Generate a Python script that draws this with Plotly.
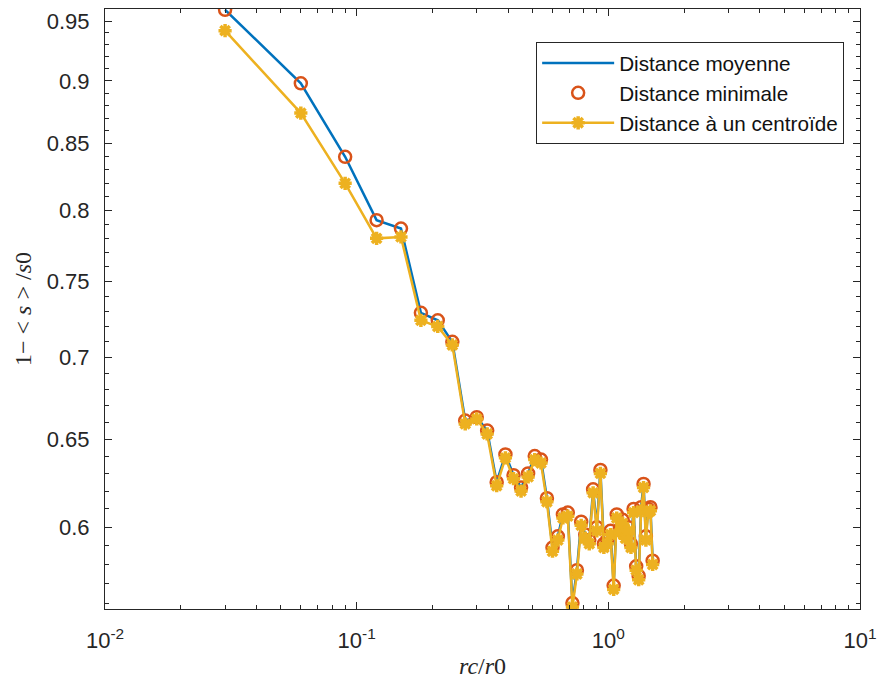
import plotly.graph_objects as go
import math

# rc/r0 values (x)
rc_r0 = [0.03, 0.06, 0.09, 0.12, 0.15, 0.18, 0.21, 0.24, 0.27, 0.30,
         0.33, 0.36, 0.39, 0.42, 0.45, 0.48, 0.51, 0.54, 0.57, 0.60,
         0.63, 0.66, 0.69, 0.72, 0.75, 0.78, 0.81, 0.84, 0.87, 0.90,
         0.93, 0.96, 0.99, 1.02, 1.05, 1.08, 1.11, 1.14, 1.17, 1.20,
         1.23, 1.26, 1.29, 1.32, 1.35, 1.38, 1.41, 1.44, 1.47, 1.50]

dist_moyenne = [0.960, 0.898, 0.840, 0.793, 0.787, 0.729, 0.724, 0.710, 0.661, 0.663,
                0.655, 0.625, 0.641, 0.629, 0.622, 0.630, 0.640, 0.638, 0.616, 0.589,
                0.595, 0.607, 0.608, 0.560, 0.577, 0.603, 0.596, 0.593, 0.621, 0.600,
                0.632, 0.591, 0.593, 0.598, 0.569, 0.607, 0.599, 0.604, 0.596, 0.600,
                0.591, 0.610, 0.579, 0.574, 0.611, 0.624, 0.595, 0.610, 0.611, 0.582]

dist_minimale = [0.960, 0.898, 0.840, 0.793, 0.787, 0.729, 0.724, 0.710, 0.661, 0.663,
                 0.655, 0.625, 0.641, 0.629, 0.622, 0.630, 0.640, 0.638, 0.616, 0.589,
                 0.595, 0.607, 0.608, 0.560, 0.577, 0.603, 0.596, 0.593, 0.621, 0.600,
                 0.632, 0.591, 0.593, 0.598, 0.569, 0.607, 0.599, 0.604, 0.596, 0.600,
                 0.591, 0.610, 0.579, 0.574, 0.611, 0.624, 0.595, 0.610, 0.611, 0.582]

dist_centroide = [0.942, 0.874, 0.820, 0.780, 0.781, 0.724, 0.720, 0.708, 0.659, 0.662,
                  0.653, 0.623, 0.639, 0.627, 0.620, 0.628, 0.638, 0.636, 0.614, 0.587,
                  0.593, 0.605, 0.606, 0.558, 0.575, 0.601, 0.594, 0.591, 0.619, 0.598,
                  0.630, 0.589, 0.591, 0.596, 0.567, 0.605, 0.597, 0.602, 0.594, 0.598,
                  0.589, 0.608, 0.577, 0.572, 0.609, 0.622, 0.593, 0.608, 0.609, 0.580]

x_tickvals = [0.01, 0.1, 1, 10]
x_ticktext = ["10<sup>-2</sup>", "10<sup>-1</sup>", "10<sup>0</sup>", "10<sup>1</sup>"]
x_minor = [m * d for d in (0.01, 0.1, 1) for m in range(2, 10)]

y_tickvals = [0.6, 0.65, 0.7, 0.75, 0.8, 0.85, 0.9, 0.95]
y_ticktext = ["0.6", "0.65", "0.7", "0.75", "0.8", "0.85", "0.9", "0.95"]
y_minor = [round(0.56 + 0.01 * i, 2) for i in range(41)]
y_minor = [v for v in y_minor if all(abs(v - t) > 1e-9 for t in y_tickvals)]

BLUE = "#0072BD"
RED = "#D95319"
YELLOW = "#EDB120"
AX = "#262626"

fig = go.Figure()
fig.add_trace(go.Scatter(x=rc_r0, y=dist_moyenne, mode="lines", name="Distance moyenne",
                         line=dict(color=BLUE, width=2.5)))
fig.add_trace(go.Scatter(x=rc_r0, y=dist_minimale, mode="markers", name="Distance minimale",
                         marker=dict(symbol="circle-open", size=12, color=RED,
                                     line=dict(color=RED, width=2.5))))
fig.add_trace(go.Scatter(x=rc_r0, y=dist_centroide, mode="lines+markers",
                         name="Distance à un centroïde",
                         line=dict(color=YELLOW, width=2.5),
                         marker=dict(symbol="asterisk-open", size=11, color=YELLOW,
                                     line=dict(color=YELLOW, width=3.5))))

fig.update_layout(
    width=885, height=690,
    margin=dict(l=105, r=19, t=8, b=81),
    paper_bgcolor="white", plot_bgcolor="white",
    font=dict(family="Liberation Sans, Arial, sans-serif", size=22, color=AX),
    showlegend=True,
    legend=dict(x=0.979, y=0.945, xanchor="right", yanchor="top",
                bordercolor=AX, borderwidth=1, bgcolor="white",
                font=dict(size=20.7, color="#111111"), itemwidth=72,
                tracegroupgap=0),
    xaxis=dict(type="log", range=[-2, 1], tickmode="array", tickvals=x_tickvals,
               ticktext=x_ticktext, ticks="inside", ticklen=7, tickwidth=1,
               tickcolor=AX, showline=True, linecolor=AX, linewidth=1,
               mirror="ticks", showgrid=False, zeroline=False,
               ticklabelstandoff=12,
               tickfont=dict(size=22, color=AX),
               minor=dict(tickmode="array", tickvals=x_minor, ticks="inside",
                          ticklen=4, tickcolor=AX, showgrid=False),
               title=dict(text="<i>rc</i>/<i>r</i>0",
                          font=dict(family="Liberation Serif, serif", size=24, color=AX),
                          standoff=4)),
    yaxis=dict(type="log", range=[math.log10(0.557), math.log10(0.9607)],
               tickmode="array", tickvals=y_tickvals, ticktext=y_ticktext,
               ticks="inside", ticklen=7, tickwidth=1, tickcolor=AX,
               showline=True, linecolor=AX, linewidth=1, mirror="ticks",
               showgrid=False, zeroline=False, ticklabelstandoff=10,
               tickfont=dict(size=22, color=AX),
               minor=dict(tickmode="array", tickvals=y_minor, ticks="inside",
                          ticklen=4, tickcolor=AX, showgrid=False),
               title=dict(text="1− &lt; <i>s</i> &gt; /<i>s</i>0",
                          font=dict(family="Liberation Serif, serif", size=24, color=AX),
                          standoff=8)),
)

fig.write_html("out.html")
